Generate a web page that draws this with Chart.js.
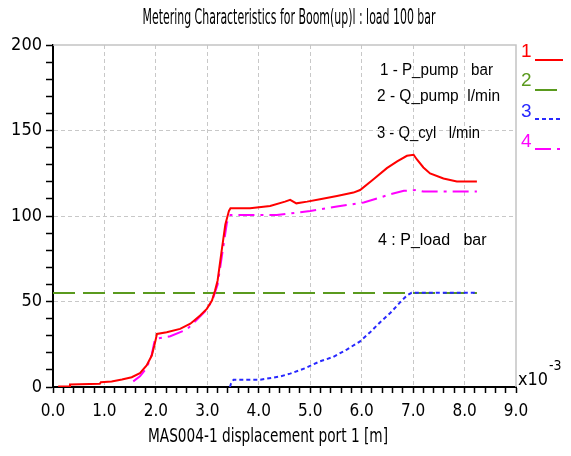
<!DOCTYPE html>
<html>
<head>
<meta charset="utf-8">
<script src="https://cdn.jsdelivr.net/npm/chart.js@4.4.1/dist/chart.umd.min.js"></script>
<style>
  html, body { margin: 0; padding: 0; background: #fff; }
</style>
</head>
<body>
<canvas id="chart" width="571" height="456"></canvas>
<script>
// displacement values are in units of 1e-3 m
var pPumpX = [0.1, 0.32, 0.33, 0.91, 0.93, 1.14, 1.34, 1.53, 1.69, 1.82, 1.92, 1.97, 2.0, 2.02, 2.21, 2.47, 2.67, 2.86, 2.99, 3.09, 3.15, 3.2, 3.28, 3.35, 3.42, 3.45, 3.83, 4.22, 4.51, 4.61, 4.73, 4.94, 5.19, 5.52, 5.84, 5.97, 6.23, 6.49, 6.69, 6.88, 7.01, 7.07, 7.2, 7.33, 7.59, 7.85, 8.24];
var pPumpY = [0.3, 0.3, 1.5, 1.9, 2.8, 3.2, 4.4, 5.7, 8.1, 12.6, 18.4, 24.3, 28.2, 31, 32, 34, 37, 41.8, 45.7, 50.6, 56.4, 62.3, 80, 95, 103, 104.5, 104.5, 105.9, 108.4, 109.4, 107.4, 108.4, 109.8, 111.7, 113.7, 115.2, 121.5, 128, 131.9, 135.2, 135.8, 133.2, 128.4, 124.9, 121.9, 120.2, 120.2];

var qPumpX = [0, 8.24];
var qPumpY = [55, 55];

var qCylX = [3.44, 3.46, 3.51, 4.03, 4.42, 4.61, 4.9, 5.19, 5.45, 5.71, 5.97, 6.17, 6.36, 6.56, 6.75, 6.88, 6.97, 8.24];
var qCylY = [0, 2, 4.3, 4.3, 6.2, 7.8, 11, 15, 17.6, 21.9, 26.7, 32.2, 37.9, 43.4, 49.6, 53.5, 55.1, 55.1];

var pLoadX = [1.56, 1.69, 1.82, 1.92, 1.98, 2.05, 2.28, 2.6, 2.8, 2.99, 3.1, 3.2, 3.3, 3.38, 3.45, 3.83, 4.35, 5.0, 5.52, 6.04, 6.56, 6.82, 7.07, 7.2, 8.24];
var pLoadY = [3.3, 6.2, 11.1, 19, 27.7, 28.5, 29.7, 33.6, 39.4, 45.3, 51, 60, 80, 96, 100.6, 100.6, 100.6, 102.9, 105.5, 107.9, 112.7, 114.7, 115.2, 114.3, 114.3];

var seriesNames = ['1 - P_pump   bar', '2 - Q_pump  l/min', '3 - Q_cyl   l/min', '4 : P_load   bar'];
var seriesColors = ['#ff0000', '#5a9a1e', '#2828ff', '#ff00ff'];
var seriesDash = [[], [22, 8], [4, 3], [16, 6, 3, 6]];

var X_MIN = 0, X_MAX = 9, X_STEP = 0.2;
var Y_MIN = 0, Y_MAX = 200, Y_STEP = 10;

var NARROW = "'Liberation Sans Narrow', 'DejaVu Sans Condensed', 'Arial Narrow', sans-serif";
var PLAIN = "'Liberation Sans', Arial, sans-serif";

function points(xs, ys) {
  return xs.map(function (x, i) { return { x: x, y: ys[i] }; });
}

function isWhole(v, step) {
  return Math.abs(v / step - Math.round(v / step)) < 1e-6;
}

function makeTicks(min, max, step) {
  var out = [];
  var n = Math.round((max - min) / step);
  for (var i = 0; i <= n; i++) out.push({ value: +(min + i * step).toFixed(4) });
  return out;
}

var textPlugin = {
  id: 'chartText',
  afterDraw: function (chart) {
    var ctx = chart.ctx;
    var a = chart.chartArea;
    ctx.save();

    // frame top/right
    ctx.strokeStyle = '#c4c4c4';
    ctx.lineWidth = 1.5;
    ctx.beginPath();
    ctx.moveTo(a.left, a.top);
    ctx.lineTo(a.right, a.top);
    ctx.lineTo(a.right, a.bottom);
    ctx.stroke();

    ctx.fillStyle = '#000';
    ctx.textBaseline = 'middle';
    ctx.textAlign = 'center';
    ctx.font = '22px ' + NARROW;
    ctx.fillText('Metering Characteristics for Boom(up)l : load 100 bar', 289, 18, 293);

    ctx.font = '19px ' + NARROW;
    ctx.fillText('MAS004-1 displacement port 1 [m]', 268, 437, 240);

    // annotations inside the plot
    ctx.textAlign = 'left';
    ctx.font = '16px ' + PLAIN;
    ctx.fillText(seriesNames[0], 380, 71, 113);
    ctx.fillText(seriesNames[1], 377, 97, 123);
    ctx.fillText(seriesNames[2], 377, 134, 103);
    ctx.fillText(seriesNames[3], 378, 241, 114);

    // x10^-3
    ctx.font = '18px ' + NARROW;
    ctx.fillText('x10', 518, 380, 30);
    ctx.font = '14px ' + NARROW;
    ctx.fillText('-3', 549, 366);

    // legend
    var legY = [52, 81, 112, 142];
    var lineY = [60, 90, 119, 149];
    ctx.font = '19px ' + PLAIN;
    for (var i = 0; i < 4; i++) {
      ctx.fillStyle = seriesColors[i];
      ctx.strokeStyle = seriesColors[i];
      ctx.fillText(String(i + 1), 521, legY[i]);
      ctx.lineWidth = 2;
      ctx.setLineDash(i === 1 ? [] : seriesDash[i]);
      ctx.beginPath();
      ctx.moveTo(535, lineY[i]);
      ctx.lineTo(i === 1 ? 557 : 563, lineY[i]);
      ctx.stroke();
    }
    ctx.setLineDash([]);
    ctx.restore();
  }
};

var datasets = [
  { data: points(pPumpX, pPumpY), order: 0 },
  { data: points(qPumpX, qPumpY), order: 3 },
  { data: points(qCylX, qCylY), order: 1 },
  { data: points(pLoadX, pLoadY), order: 2 }
].map(function (d, i) {
  d.label = seriesNames[i];
  d.borderColor = seriesColors[i];
  d.backgroundColor = seriesColors[i];
  d.borderDash = seriesDash[i];
  d.borderWidth = 2;
  d.pointRadius = 0;
  d.tension = 0;
  d.fill = false;
  return d;
});

var ctx = document.getElementById('chart').getContext('2d');
new Chart(ctx, {
  type: 'line',
  data: { datasets: datasets },
  plugins: [textPlugin],
  options: {
    responsive: false,
    animation: false,
    layout: { padding: { top: 45, right: 55, left: 0, bottom: 0 } },
    plugins: {
      legend: { display: false },
      tooltip: { enabled: false },
      title: { display: false }
    },
    scales: {
      x: {
        type: 'linear',
        min: X_MIN,
        max: X_MAX,
        afterBuildTicks: function (s) { s.ticks = makeTicks(X_MIN, X_MAX, X_STEP); },
        afterFit: function (s) { s.height = 69; },
        ticks: {
          autoSkip: false,
          maxRotation: 0,
          padding: 8,
          color: '#000',
          font: { family: NARROW, size: 17 },
          callback: function (v) { return isWhole(v, 1) ? v.toFixed(1) : ''; }
        },
        grid: {
          color: function (c) {
            var v = c.tick ? c.tick.value : 0;
            return isWhole(v, 1) && v > X_MIN && v < X_MAX ? '#c8c8c8' : 'rgba(0,0,0,0)';
          },
          tickColor: '#000',
          tickLength: 6,
          tickWidth: 1.5,
          lineWidth: 1
        },
        border: { color: '#000', width: 2, dash: [4, 3] }
      },
      y: {
        type: 'linear',
        min: Y_MIN,
        max: Y_MAX,
        afterBuildTicks: function (s) { s.ticks = makeTicks(Y_MIN, Y_MAX, Y_STEP); },
        afterFit: function (s) { s.width = 53; },
        ticks: {
          autoSkip: false,
          padding: 4,
          color: '#000',
          font: { family: NARROW, size: 18 },
          callback: function (v) { return isWhole(v, 50) ? String(v) : ''; }
        },
        grid: {
          color: function (c) {
            var v = c.tick ? c.tick.value : 0;
            return isWhole(v, 50) && v > Y_MIN && v < Y_MAX ? '#c8c8c8' : 'rgba(0,0,0,0)';
          },
          tickColor: '#000',
          tickLength: 7,
          tickWidth: 1.5,
          lineWidth: 1
        },
        border: { color: '#000', width: 2, dash: [4, 3] }
      }
    }
  }
});
</script>
</body>
</html>
